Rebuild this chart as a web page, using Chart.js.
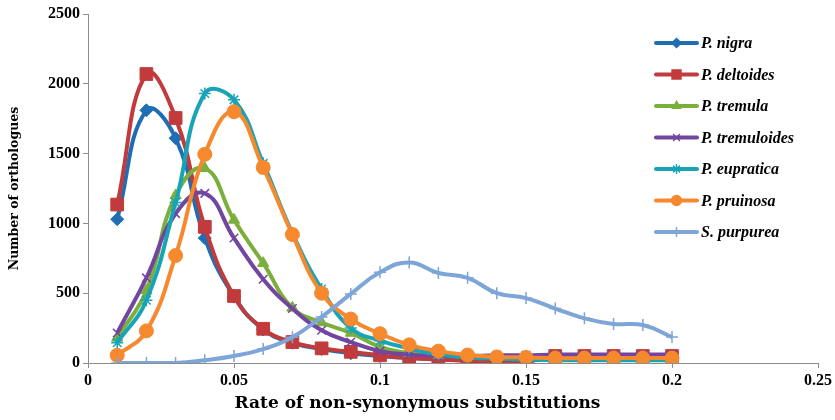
<!DOCTYPE html>
<html>
<head>
<meta charset="utf-8">
<script src="https://cdn.jsdelivr.net/npm/chart.js@4/dist/chart.umd.min.js"></script>
<style>
  html, body { margin: 0; padding: 0; background: #fff; }
  #wrap { width: 835px; height: 420px; }
</style>
</head>
<body>
<div id="wrap"><canvas id="rateChart" width="835" height="420"></canvas></div>
<script>
// rate of non-synonymous substitutions (x values)
const rates = [0.01, 0.02, 0.03, 0.04, 0.05, 0.06, 0.07, 0.08, 0.09, 0.10,
               0.11, 0.12, 0.13, 0.14, 0.15, 0.16, 0.17, 0.18, 0.19, 0.20];

const seriesNames = ['P. nigra', 'P. deltoides', 'P. tremula', 'P. tremuloides',
                     'P. eupratica', 'P. pruinosa', 'S. purpurea'];

const nigra       = [1030, 1810, 1610, 895, 475, 240, 145, 100, 70, 50, 35, 25, 20, 15, 15, 40, 40, 40, 40, 40];
const deltoides   = [1135, 2070, 1755, 975, 480, 245, 150, 105, 80, 55, 35, 25, 15, 10, 10, 50, 50, 50, 50, 50];
const tremula     = [180, 520, 1200, 1395, 1025, 715, 395, 290, 215, 115, 70, 55, 50, 45, 40, 40, 40, 40, 40, 40];
const tremuloides = [215, 610, 1070, 1215, 895, 600, 390, 235, 150, 85, 60, 50, 50, 55, 55, 60, 60, 60, 60, 60];
const eupratica   = [145, 450, 1150, 1930, 1885, 1430, 930, 530, 250, 160, 105, 60, 40, 30, 25, 20, 20, 20, 20, 20];
const pruinosa    = [55, 230, 770, 1495, 1800, 1400, 920, 500, 315, 210, 130, 85, 57, 43, 40, 35, 35, 35, 35, 35];
const purpurea    = [0, 0, 0, 20, 50, 100, 185, 330, 495, 650, 720, 645, 610, 500, 465, 390, 320, 280, 272, 186];

const xTicks = [0, 0.05, 0.1, 0.15, 0.2, 0.25];
const yTicks = [0, 500, 1000, 1500, 2000, 2500];

const xTitle = 'Rate of non-synonymous substitutions';
const yTitle = 'Number of orthologues';

const allSeries = [nigra, deltoides, tremula, tremuloides, eupratica, pruinosa, purpurea];
const colors = ['#1F6EB4', '#C23B3C', '#7BAF3B', '#7145A0', '#18A3B6', '#F6892E', '#7EA5D8'];
const markers = ['rectRot', 'rect', 'triangle', 'crossRot', 'star', 'circle', 'cross'];
const markerSize = [6.5, 9, 6.5, 6, 6, 7, 6];

const AXIS_COLOR = '#8c8c8c';
const TICK_FONT = { family: "'Liberation Serif', 'Times New Roman', serif", size: 16, weight: 'bold' };

// legend drawn inside the plot area, top right
const sideLegend = {
    id: 'sideLegend',
    afterDraw(chart) {
        const ctx = chart.ctx;
        const x0 = 656, x1 = 697, yStart = 43, step = 31.5;
        ctx.save();
        chart.data.datasets.forEach((ds, i) => {
            const y = yStart + i * step;
            ctx.strokeStyle = ds.borderColor;
            ctx.lineWidth = 4;
            ctx.lineCap = 'round';
            ctx.beginPath();
            ctx.moveTo(x0, y);
            ctx.lineTo(x1, y);
            ctx.stroke();
            ctx.fillStyle = ds.borderColor;
            ctx.strokeStyle = ds.borderColor;
            ctx.lineWidth = 1.5;
            Chart.helpers.drawPoint(ctx, {
                pointStyle: ds.pointStyle,
                radius: ds.pointRadius * 0.7,
                rotation: 0,
                borderWidth: 1.5
            }, (x0 + x1) / 2, y);
            ctx.fillStyle = '#000';
            ctx.font = "italic bold 16px 'Liberation Serif', serif";
            ctx.textBaseline = 'middle';
            ctx.textAlign = 'left';
            ctx.fillText(ds.label, x1 + 4, y + 1);
        });

        // x-axis title is centred on the whole figure, not the plot area
        ctx.fillStyle = '#000';
        ctx.font = "bold 17px 'DejaVu Serif', serif";
        ctx.textAlign = 'center';
        ctx.textBaseline = 'middle';
        ctx.fillText(xTitle, chart.width / 2, 404);
        ctx.restore();
    }
};

function initializeChart() {
    const ctx = document.getElementById('rateChart');
    const datasets = allSeries.map((vals, i) => ({
        label: seriesNames[i],
        data: rates.map((r, k) => ({ x: r, y: vals[k] })),
        borderColor: colors[i],
        backgroundColor: colors[i],
        borderWidth: 4,
        tension: 0.45,
        pointStyle: markers[i],
        pointRadius: markerSize[i],
        pointBorderWidth: (markers[i] === 'crossRot' || markers[i] === 'star' || markers[i] === 'cross') ? 1.5 : 1,
        pointBackgroundColor: colors[i],
        pointBorderColor: colors[i],
        order: allSeries.length - i
    }));

    new Chart(ctx, {
        type: 'line',
        data: { datasets: datasets },
        options: {
            responsive: false,
            animation: false,
            devicePixelRatio: 1,
            layout: { padding: { top: 14, right: 15, left: 0, bottom: 0 } },
            plugins: {
                legend: { display: false },
                tooltip: { enabled: false }
            },
            scales: {
                x: {
                    type: 'linear',
                    min: 0,
                    max: 0.25,
                    afterBuildTicks: scale => { scale.ticks = xTicks.map(v => ({ value: v })); },
                    afterFit: scale => { scale.height = 57; },
                    ticks: {
                        color: '#000',
                        font: TICK_FONT,
                        padding: 3,
                        maxRotation: 0,
                        callback: v => String(v)
                    },
                    grid: { drawOnChartArea: false, tickLength: 5, color: AXIS_COLOR },
                    border: { color: AXIS_COLOR, width: 1 },
                    title: { display: false }
                },
                y: {
                    type: 'linear',
                    min: 0,
                    max: 2500,
                    afterBuildTicks: scale => { scale.ticks = yTicks.map(v => ({ value: v })); },
                    afterFit: scale => { scale.width = 88; },
                    ticks: {
                        color: '#000',
                        font: TICK_FONT,
                        padding: 3,
                        callback: v => String(v)
                    },
                    grid: { drawOnChartArea: false, tickLength: 5, color: AXIS_COLOR },
                    border: { color: AXIS_COLOR, width: 1 },
                    title: {
                        display: true,
                        text: yTitle,
                        color: '#000',
                        font: { family: "'DejaVu Serif', serif", size: 12.5, weight: 'bold' },
                        padding: { top: 7, bottom: 0 }
                    }
                }
            }
        },
        plugins: [sideLegend]
    });
}

if (document.readyState === 'loading') {
    document.addEventListener('DOMContentLoaded', initializeChart);
} else {
    initializeChart();
}
</script>
</body>
</html>
